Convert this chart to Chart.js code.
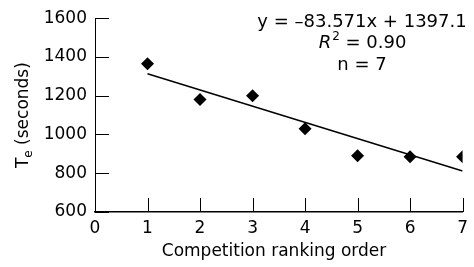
<!DOCTYPE html>
<html>
<head>
<meta charset="utf-8">
<script src="https://cdn.jsdelivr.net/npm/chart.js@4.4.0/dist/chart.umd.min.js"></script>
<style>
  html, body { margin: 0; padding: 0; background: #fff; }
  canvas { display: block; }
</style>
</head>
<body>
<canvas id="grafico" width="474" height="267"></canvas>
<script>
// dados
const ranking = [1, 2, 3, 4, 5, 6, 7];
const tempos = [1365, 1180, 1200, 1030, 890, 885, 885];
const tendenciaX = [1, 7];
const tendenciaY = [1313, 812];
const yTicks = [600, 800, 1000, 1200, 1400, 1600];
const xTicks = [0, 1, 2, 3, 4, 5, 6, 7];
const equacao = "y = \u201383.571x + 1397.1";
const r2 = " = 0.90";
const nTexto = "n = 7";
const tituloX = "Competition ranking order";
const tituloY = ["T", "e", " (seconds)"];

const fonte = "DejaVu Sans";

const marcas = {
  id: "marcas",
  afterDraw(chart) {
    const { ctx, chartArea } = chart;
    const x = chart.scales.x;
    const y = chart.scales.y;
    ctx.save();
    ctx.strokeStyle = "#000";
    ctx.lineWidth = 1;
    // marcas do eixo y (para dentro)
    yTicks.forEach((v) => {
      const py = Math.round(y.getPixelForValue(v)) + 0.5;
      ctx.beginPath();
      ctx.moveTo(chartArea.left, py);
      ctx.lineTo(chartArea.left + 14, py);
      ctx.stroke();
    });
    // marcas do eixo x (para cima)
    xTicks.forEach((v) => {
      const px = Math.round(x.getPixelForValue(v)) + 0.5;
      ctx.beginPath();
      ctx.moveTo(px, chartArea.bottom);
      ctx.lineTo(px, chartArea.bottom - 14);
      ctx.stroke();
    });

    ctx.fillStyle = "#000";
    // título do eixo x
    ctx.font = "17px '" + fonte + "'";
    ctx.textAlign = "center";
    ctx.textBaseline = "middle";
    ctx.fillText(tituloX, 274, 252);

    // título do eixo y com subscrito
    ctx.save();
    ctx.translate(24, (chartArea.top + chartArea.bottom) / 2);
    ctx.rotate(-Math.PI / 2);
    ctx.textAlign = "left";
    ctx.textBaseline = "middle";
    ctx.font = "17px '" + fonte + "'";
    const wT = ctx.measureText(tituloY[0]).width;
    ctx.font = "12px '" + fonte + "'";
    const wE = ctx.measureText(tituloY[1]).width;
    ctx.font = "17px '" + fonte + "'";
    const wS = ctx.measureText(tituloY[2]).width;
    let cx = -(wT + wE + wS) / 2;
    ctx.fillText(tituloY[0], cx, 0);
    cx += wT;
    ctx.font = "12px '" + fonte + "'";
    ctx.fillText(tituloY[1], cx, 5);
    cx += wE;
    ctx.font = "17px '" + fonte + "'";
    ctx.fillText(tituloY[2], cx, 0);
    ctx.restore();

    // equação da regressão
    const centro = 362;
    ctx.font = "18px '" + fonte + "'";
    ctx.textAlign = "center";
    ctx.textBaseline = "middle";
    ctx.fillText(equacao, centro, 22);
    ctx.fillText(nTexto, centro, 65);

    ctx.textAlign = "left";
    ctx.font = "italic 18px '" + fonte + "'";
    const wR = ctx.measureText("R").width;
    ctx.font = "12px '" + fonte + "'";
    const w2 = ctx.measureText("2").width;
    ctx.font = "18px '" + fonte + "'";
    const wResto = ctx.measureText(r2).width;
    let rx = centro - (wR + w2 + wResto) / 2;
    ctx.font = "italic 18px '" + fonte + "'";
    ctx.fillText("R", rx, 43);
    rx += wR;
    ctx.font = "12px '" + fonte + "'";
    ctx.fillText("2", rx + 1, 37);
    rx += w2 + 1;
    ctx.font = "18px '" + fonte + "'";
    ctx.fillText(r2, rx, 43);
    ctx.restore();
  }
};

new Chart(document.getElementById("grafico"), {
  type: "scatter",
  data: {
    datasets: [
      {
        data: ranking.map((r, i) => ({ x: r, y: tempos[i] })),
        pointStyle: "rectRot",
        pointRadius: 6.5,
        backgroundColor: "#000",
        borderWidth: 0,
        showLine: false
      },
      {
        data: tendenciaX.map((r, i) => ({ x: r, y: tendenciaY[i] })),
        showLine: true,
        borderColor: "#000",
        borderWidth: 1.5,
        pointRadius: 0,
        fill: false
      }
    ]
  },
  options: {
    responsive: false,
    animation: false,
    events: [],
    layout: { padding: { left: 0, top: 18, right: 11, bottom: 0 } },
    plugins: { legend: { display: false }, tooltip: { enabled: false } },
    scales: {
      x: {
        type: "linear",
        min: 0,
        max: 7,
        afterFit: (s) => { s.height = 55; },
        afterBuildTicks: (s) => { s.ticks = xTicks.map((v) => ({ value: v })); },
        grid: { display: false, drawTicks: false },
        border: { display: true, color: "#000", width: 1.5 },
        ticks: { color: "#000", padding: 6, font: { family: fonte, size: 17 }, callback: (v) => String(v) }
      },
      y: {
        min: 600,
        max: 1600,
        afterFit: (s) => { s.width = 95; },
        afterBuildTicks: (s) => { s.ticks = yTicks.map((v) => ({ value: v })); },
        grid: { display: false, drawTicks: false },
        border: { display: true, color: "#000", width: 1 },
        ticks: { color: "#000", padding: 8, font: { family: fonte, size: 17 }, callback: (v) => String(v) }
      }
    }
  },
  plugins: [marcas]
});
</script>
</body>
</html>
